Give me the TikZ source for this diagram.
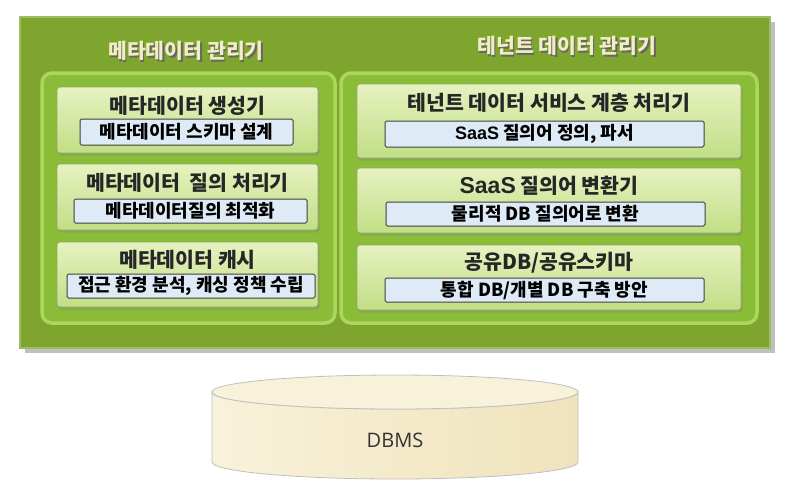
\documentclass[tikz,border=0pt]{standalone}
\usepackage{fontspec}
\setmainfont{Noto Sans CJK KR}
\newfontfamily\latinfont{Liberation Sans}
\newfontfamily\dbfont{Open Sans}
\usetikzlibrary{shadows}

\definecolor{outerGreen}{RGB}{126,166,46}
\definecolor{panelGreen}{RGB}{138,188,56}
\definecolor{panelRim}{RGB}{172,214,92}
\definecolor{boxTop}{RGB}{230,242,192}
\definecolor{boxBot}{RGB}{194,222,134}
\definecolor{labelBlue}{RGB}{222,235,246}
\definecolor{headText}{RGB}{242,238,196}
\definecolor{dbTop}{RGB}{249,242,218}
\definecolor{dbSide}{RGB}{239,227,188}

% text with a small dark shadow behind it
\newcommand{\shadowed}[1]{\makebox[0pt][l]{\hspace{1.4pt}\raisebox{-1.4pt}{\color{black!60}#1}}#1}

\tikzset{
  outerbox/.style={fill=outerGreen, draw=outerGreen!75!white, line width=1.5pt,
    drop shadow={opacity=0.5, shadow xshift=5pt, shadow yshift=-5pt}},
  panel/.style={rounded corners=10pt, fill=panelGreen, draw=panelRim, line width=3.5pt},
  procbox/.style={rounded corners=3pt, top color=boxTop, bottom color=boxBot,
    draw=boxBot!75!black, line width=0.6pt,
    drop shadow={opacity=0.35, shadow xshift=1.5pt, shadow yshift=-2.5pt}},
  labelbox/.style={draw=black!75, line width=1pt, fill=labelBlue, rounded corners=1.5pt,
    inner sep=0pt, font=\bfseries\fontsize{18}{18}\selectfont},
  headlabel/.style={text=headText, font=\bfseries\fontsize{20.5}{20.5}\selectfont},
  titlelabel/.style={text=black!85, font=\bfseries\fontsize{20.5}{20.5}\selectfont},
}

\begin{document}
\begin{tikzpicture}[x=1pt,y=1pt,yscale=-1,xscale=1]
\useasboundingbox (0,0) rectangle (790,483);

%Shape: outer frame
\path[outerbox] (20,17) rectangle (770,348);

% headers
\node[headlabel] (metaHead) at (186,52) {\shadowed{메타데이터 관리기}};
\node[headlabel] (tenantHead) at (567,47) {\shadowed{테넌트\ 데이터\ 관리기}};

%Shape: two panels
\path[panel] (42,73) rectangle (335,323);
\path[panel] (341,73) rectangle (757,323);

%Left boxes
\path[procbox] (57,87) rectangle (318,153);
\node[titlelabel] (genTitle) at (187.5,106) {메타데이터 생성기};
\node[labelbox, minimum width=213, minimum height=26] (genItem) at (186.5,132) {메타데이터 스키마 설계};

\path[procbox] (57,164) rectangle (318,230);
\node[titlelabel] (queryTitle) at (187.5,183) {메타데이터\ \ 질의 처리기};
\node[labelbox, minimum width=233, minimum height=24] (queryItem) at (190.5,211) {메타데이터질의 최적화};

\path[procbox] (57,242) rectangle (318,307);
\node[titlelabel] (cacheTitle) at (187.5,260) {메타데이터 캐시};
\node[labelbox, minimum width=248, minimum height=24] (cacheItem) at (191,286) {접근 환경 분석, 캐싱 정책 수립};

%Right boxes
\path[procbox] (357,84) rectangle (741,158);
\node[titlelabel] (svcTitle) at (549,103) {테넌트 데이터 서비스 계층 처리기};
\node[labelbox, minimum width=319, minimum height=26] (svcItem) at (544.5,134) {{\latinfont SaaS} 질의어 정의, 파서};

\path[procbox] (357,168) rectangle (741,233);
\node[titlelabel] (convTitle) at (549,186) {{\latinfont\fontsize{23}{23}\selectfont SaaS} 질의어 변환기};
\node[labelbox, minimum width=319, minimum height=24] (convItem) at (545.5,214) {물리적 DB 질의어로 변환};

\path[procbox] (357,245) rectangle (741,310);
\node[titlelabel] (shareTitle) at (549,263) {공유DB/공유스키마};
\node[labelbox, minimum width=319, minimum height=24] (shareItem) at (544.5,290) {통합 DB/개별 DB 구축 방안};

%Shape: DBMS cylinder
\path[left color=dbTop, right color=dbSide, draw=black!25, line width=0.8pt]
  (212,392) -- (212,462) arc[start angle=180, end angle=0, x radius=183, y radius=17]
  -- (578,392) arc[start angle=0, end angle=180, x radius=183, y radius=17] -- cycle;
\path[fill=dbTop, draw=black!25, line width=0.8pt] (395,392) ellipse [x radius=183, y radius=17];
\node[font=\dbfont\fontsize{20}{20}\selectfont, text=black!80] (dbms) at (395,440) {DBMS};
\end{tikzpicture}
\end{document}
